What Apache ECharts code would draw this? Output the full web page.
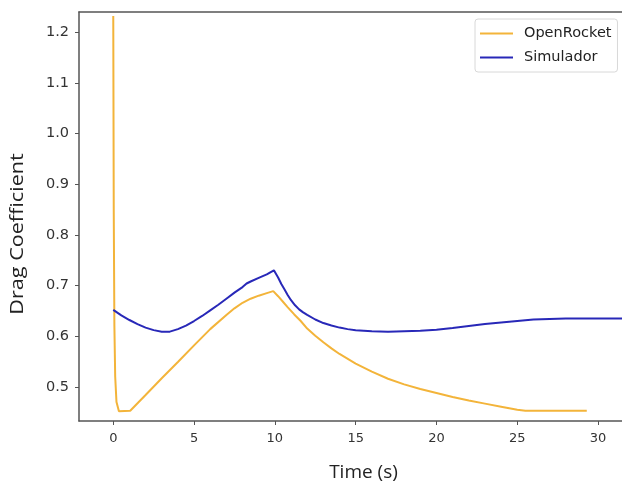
<!DOCTYPE html>
<html>
<head>
<meta charset="utf-8">
<script src="https://cdn.jsdelivr.net/npm/echarts@6/dist/echarts.min.js"></script>
<style>html,body{margin:0;padding:0;background:#fff;}#c{width:622px;height:487px;}</style>
</head>
<body>
<div id="c"></div>
<script>
const seriesNames = ['OpenRocket', 'Simulador'];
const xTicks = [0, 5, 10, 15, 20, 25, 30];
const yTicks = [0.5, 0.6, 0.7, 0.8, 0.9, 1.0, 1.1, 1.2];

const openRocketT = [0, 0.03, 0.07, 0.12, 0.2, 0.35, 1.05, 2, 3, 4, 5, 6, 7, 7.5, 8, 8.5, 9, 9.5, 9.9, 10.2, 10.5, 10.8, 11.2, 11.6, 12, 12.5, 13, 13.5, 14, 15, 16, 17, 18, 19, 20, 21, 22, 23, 24, 25, 25.5, 27, 29.3];
const openRocketY = [1.232, 0.85, 0.62, 0.52, 0.47, 0.452, 0.453, 0.484, 0.517, 0.549, 0.582, 0.614, 0.642, 0.655, 0.666, 0.674, 0.680, 0.685, 0.689, 0.679, 0.668, 0.657, 0.643, 0.630, 0.615, 0.601, 0.588, 0.576, 0.565, 0.546, 0.530, 0.516, 0.505, 0.496, 0.488, 0.480, 0.473, 0.467, 0.461, 0.455, 0.453, 0.453, 0.453];

const simT = [0, 0.5, 1, 1.5, 2, 2.5, 3, 3.5, 4, 4.5, 5, 5.5, 6, 6.5, 7, 7.5, 8, 8.25, 8.5, 9, 9.5, 9.94, 10.2, 10.4, 10.6, 10.8, 11, 11.25, 11.5, 11.75, 12, 12.5, 13, 13.5, 14, 14.5, 15, 16, 17, 18, 19, 20, 21, 22, 23, 24, 25, 26, 27, 28, 30, 33];
const simY = [0.652, 0.641, 0.632, 0.624, 0.617, 0.612, 0.609, 0.609, 0.614, 0.621, 0.630, 0.640, 0.651, 0.662, 0.674, 0.686, 0.697, 0.704, 0.708, 0.715, 0.722, 0.730, 0.716, 0.703, 0.692, 0.681, 0.671, 0.661, 0.653, 0.647, 0.642, 0.633, 0.626, 0.621, 0.617, 0.614, 0.612, 0.610, 0.609, 0.610, 0.611, 0.613, 0.616, 0.620, 0.624, 0.627, 0.630, 0.633, 0.634, 0.635, 0.635, 0.635];

const pair = (xs, ys) => xs.map((x, i) => [x, ys[i]]);

const axisCol = '#555';
const txtCol = '#333';
const orange = '#f3b43a';
const blue = '#2828b8';
const chart = echarts.init(document.getElementById('c'));
chart.setOption({
  animation: false,
  backgroundColor: '#fff',
  grid: { left: 79, top: 12, right: 0, bottom: 64 },
  legend: {
    data: seriesNames,
    orient: 'vertical',
    left: 475, top: 19,
    icon: 'rect',
    itemWidth: 33, itemHeight: 2,
    itemGap: 9,
    padding: [7, 6, 7, 5],
    backgroundColor: '#fff',
    borderColor: '#d8d8d8', borderWidth: 1, borderRadius: 3,
    textStyle: { fontFamily: 'DejaVu Sans', fontSize: 14.5, color: '#222', padding: [0, 0, 0, 6] }
  },
  xAxis: [{
    type: 'value', min: -2.12, max: 31.48,
    name: 'Time (s)', nameLocation: 'middle', nameGap: 42,
    nameTextStyle: { fontFamily: 'Open Sans', fontSize: 19, color: '#222', padding: [0, 0, 0, 26] },
    axisLine: { show: true, onZero: false, lineStyle: { color: axisCol, width: 1.5 } },
    axisTick: { show: true, length: 4, lineStyle: { color: axisCol }, customValues: xTicks },
    axisLabel: { customValues: xTicks, fontFamily: 'DejaVu Sans', fontSize: 13, color: txtCol, margin: 11 },
    splitLine: { show: false }
  }, {
    type: 'value', position: 'top', min: -2.12, max: 31.48,
    axisLine: { show: true, onZero: false, lineStyle: { color: axisCol, width: 1.5 } },
    axisTick: { show: false }, axisLabel: { show: false }, splitLine: { show: false }
  }],
  yAxis: {
    type: 'value', min: 0.4327, max: 1.2398,
    axisLine: { show: true, onZero: false, lineStyle: { color: axisCol, width: 1.5 } },
    axisTick: { show: true, length: 4, lineStyle: { color: axisCol }, customValues: yTicks },
    axisLabel: { customValues: yTicks, fontFamily: 'DejaVu Sans', fontSize: 14.5, color: txtCol, margin: 10, formatter: v => v.toFixed(1) },
    splitLine: { show: false }
  },
  graphic: [{
    type: 'text', x: 9, y: 234, rotation: Math.PI / 2, scaleX: 1.2,
    style: { text: 'Drag Coefficient', font: '18px "Open Sans"', fill: '#222', align: 'center', verticalAlign: 'top' }
  }],
  series: [
    { name: seriesNames[0], type: 'line', data: pair(openRocketT, openRocketY), showSymbol: false, symbol: 'none', lineStyle: { color: orange, width: 2 }, itemStyle: { color: orange }, clip: true },
    { name: seriesNames[1], type: 'line', data: pair(simT, simY), showSymbol: false, symbol: 'none', lineStyle: { color: blue, width: 2 }, itemStyle: { color: blue }, clip: true }
  ]
});
</script>
</body>
</html>
